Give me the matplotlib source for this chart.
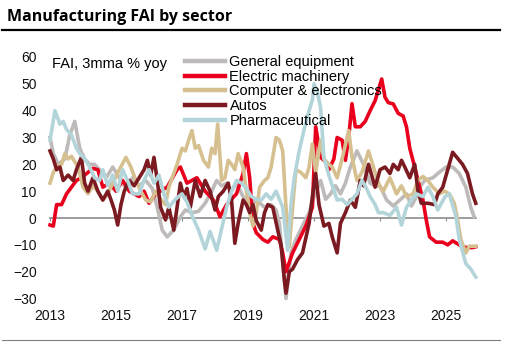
import matplotlib
matplotlib.use("Agg")
import matplotlib.pyplot as plt
from matplotlib.lines import Line2D

# ---- data (decimal years) ----
gen_t = [2013.0, 2013.1, 2013.25, 2013.45, 2013.6, 2013.75, 2013.9, 2014.05, 2014.2, 2014.35,
         2014.5, 2014.7, 2014.9, 2015.1, 2015.3, 2015.5, 2015.7, 2015.9, 2016.1, 2016.25,
         2016.4, 2016.55, 2016.75, 2016.95, 2017.1, 2017.3, 2017.5, 2017.7, 2017.9, 2018.05,
         2018.2, 2018.35, 2018.5, 2018.65, 2018.85, 2019.05, 2019.25, 2019.5, 2019.7, 2019.85,
         2019.95, 2020.08, 2020.15, 2020.3, 2020.45, 2020.65, 2020.85, 2021.0, 2021.2, 2021.35,
         2021.5, 2021.65, 2021.8, 2021.95, 2022.1, 2022.3, 2022.5, 2022.7, 2022.85, 2023.0,
         2023.2, 2023.4, 2023.6, 2023.8, 2023.95, 2024.05, 2024.2, 2024.35, 2024.6, 2024.75,
         2025.0, 2025.2, 2025.4, 2025.6, 2025.75, 2025.85]
gen_v = [30, 24, 20, 22, 31, 36, 26, 22, 20, 20,
         18, 15, 19, 15, 11, 15, 12, 14, 11, 4,
         -4.5, -7, -4.5, 0.5, 3, 2, 2.5, 5.5, 10, 14,
         12, 13, 10, 13, 8, 4, 6.7, 4, 5, 3,
         -2, -20, -30, -13, -8, -3, 2, 8, 14, 7,
         9, 12, 9, 13, 19, 25, 20, 13, 12, 12,
         6.7, 4.5, 6.7, 9, 4.5, 6.7, 11.5, 14, 15, 16.6,
         19, 19, 16.6, 11.5, 4, 0.5]

elec_t = [2013.0, 2013.1, 2013.2, 2013.35, 2013.5, 2013.65, 2013.8, 2013.95, 2014.15, 2014.3,
          2014.45, 2014.6, 2014.8, 2015.0, 2015.2, 2015.4, 2015.7, 2015.85, 2016.0, 2016.2,
          2016.55, 2016.85, 2016.95, 2017.15, 2017.45, 2017.7, 2017.95, 2018.15, 2018.35, 2018.65,
          2018.85, 2018.95, 2019.05, 2019.15, 2019.25, 2019.45, 2019.6, 2019.75, 2019.95, 2020.05,
          2020.15, 2020.35, 2020.55, 2020.75, 2020.95, 2021.05, 2021.2, 2021.35, 2021.45, 2021.6,
          2021.7, 2021.85, 2021.95, 2022.05, 2022.15, 2022.25, 2022.4, 2022.55, 2022.7, 2022.85,
          2023.05, 2023.15, 2023.25, 2023.4, 2023.55, 2023.7, 2023.8, 2023.9, 2024.05, 2024.15,
          2024.3, 2024.4, 2024.5, 2024.7, 2024.9, 2025.05, 2025.2, 2025.4, 2025.6, 2025.8, 2025.9]
elec_v = [-2.6, -3, 5, 5, 9, 11.5, 14, 15, 17, 18.5,
          18, 11.5, 13, 10, 14, 10, 8, 10, 5.5, 9,
          11.5, 18, 19, 13, 15, 10, 6.7, 0.5, 5, 9,
          16.6, 24, 15, -2, -5.5, -8, -9, -7, -8, -13,
          -20, -13, -8, -3, 4, 34, 22.6, 21, 18, 22,
          30, 29, 21.5, 30, 42.6, 34, 34, 36, 40, 43.7,
          51.8, 45, 43, 42.5, 39, 38, 34, 26, 19, 14,
          6.7, -0.7, -7, -9, -9, -10, -8.5, -10, -11, -11, -10.7]

comp_t = [2013.0, 2013.1, 2013.2, 2013.35, 2013.45, 2013.55, 2013.65, 2013.85, 2014.0, 2014.15,
          2014.3, 2014.45, 2014.6, 2014.75, 2014.9, 2015.1, 2015.3, 2015.45, 2015.6, 2015.75,
          2015.9, 2016.05, 2016.2, 2016.35, 2016.5, 2016.6, 2016.85, 2017.0, 2017.1, 2017.2,
          2017.3, 2017.4, 2017.5, 2017.65, 2017.8, 2017.9, 2018.0, 2018.08, 2018.2, 2018.3,
          2018.4, 2018.5, 2018.6, 2018.7, 2018.85, 2018.95, 2019.05, 2019.15, 2019.25, 2019.35,
          2019.5, 2019.6, 2019.7, 2019.85, 2019.95, 2020.05, 2020.15, 2020.25, 2020.35, 2020.45,
          2020.6, 2020.75, 2020.85, 2020.95, 2021.05, 2021.2, 2021.3, 2021.45, 2021.55, 2021.7,
          2021.85, 2022.0, 2022.05, 2022.15, 2022.3, 2022.45, 2022.65, 2022.8, 2022.9, 2023.0,
          2023.1, 2023.3, 2023.5, 2023.65, 2023.8, 2024.0, 2024.15, 2024.3, 2024.45, 2024.6,
          2024.8, 2024.95, 2025.1, 2025.25, 2025.35, 2025.45, 2025.6, 2025.7, 2025.9]
comp_v = [13, 17, 19, 20, 24, 22, 23, 19, 11.5, 9,
          12, 10, 6.7, 9, 13, 18, 22.6, 19, 14, 10,
          6.7, 6, 10, 7, 5, 11.5, 20, 26, 25, 29,
          32.6, 26, 27, 21.5, 19, 26, 24, 35, 14, 15,
          21.5, 20, 18, 24, 19, 10, 2, -3, 2, 11.5,
          14, 15, 19, 30, 29, 25, 4, -10.7, 4, 18,
          17, 15, 19, 27.6, 17, 29, 22, 20, 19, 15,
          22, 30, 32.6, 22.6, 14, 17, 25, 19, 15, 11.5,
          10, 15, 9, 12, 8, 9, 14, 15.5, 14, 11.5,
          9, 10, 9, 5.5, -0.7, -8, -13, -10.5, -10.5]

auto_t = [2013.0, 2013.1, 2013.2, 2013.3, 2013.4, 2013.55, 2013.7, 2013.8, 2013.95, 2014.05,
          2014.15, 2014.3, 2014.45, 2014.6, 2014.75, 2014.85, 2014.95, 2015.05, 2015.15, 2015.25,
          2015.4, 2015.55, 2015.7, 2015.85, 2015.95, 2016.05, 2016.15, 2016.25, 2016.35, 2016.5,
          2016.6, 2016.75, 2016.85, 2016.95, 2017.05, 2017.15, 2017.25, 2017.4, 2017.55, 2017.7,
          2017.85, 2018.0, 2018.1, 2018.25, 2018.4, 2018.5, 2018.6, 2018.7, 2018.85, 2018.95,
          2019.05, 2019.15, 2019.25, 2019.4, 2019.5, 2019.6, 2019.75, 2019.9, 2020.0, 2020.1,
          2020.15, 2020.25, 2020.35, 2020.5, 2020.65, 2020.85, 2020.95, 2021.05, 2021.15, 2021.3,
          2021.45, 2021.55, 2021.7, 2021.8, 2021.95, 2022.1, 2022.25, 2022.4, 2022.5, 2022.65,
          2022.85, 2023.0, 2023.15, 2023.3, 2023.4, 2023.55, 2023.65, 2023.75, 2023.9, 2024.05,
          2024.15, 2024.25, 2024.45, 2024.65, 2024.75, 2024.9, 2025.05, 2025.2, 2025.3, 2025.5,
          2025.65, 2025.8, 2025.9]
auto_v = [25, 22, 18, 19, 14, 16, 14, 18, 22.6, 13,
          10, 15, 10, 6.7, 10, 6.7, 3, -2.6, 5, 10,
          14, 12, 15, 18, 21.5, 16, 22.6, 14, 4, -0.7,
          4, -4.5, 4, 13, 8, 11, 4, 14, 8, 14,
          10, 3, 8, 10, 13, 6.7, -9.4, -2, 6.7, 5,
          2, 5, -1, -4.5, 2, 5, 4, -4.5, -10, -23,
          -28, -20, -19, -15.5, -13, -2, 8, 16.6, 5, -3,
          -2, -7, -13, -2, 2, 6.7, 4, 14, 12, 20,
          11.5, 18, 19, 16.6, 20, 18, 21.5, 19, 15, 20,
          10, 5.5, 5.5, 5, 9, 11.5, 18, 24.5, 23, 20,
          16.6, 9, 5.5]

pharma_t = [2013.0, 2013.15, 2013.3, 2013.4, 2013.5, 2013.65, 2013.8, 2013.9, 2014.05, 2014.2,
            2014.35, 2014.5, 2014.6, 2014.75, 2014.9, 2015.05, 2015.2, 2015.35, 2015.5, 2015.7,
            2015.85, 2016.0, 2016.15, 2016.3, 2016.45, 2016.6, 2016.8, 2017.0, 2017.15, 2017.3,
            2017.5, 2017.7, 2017.85, 2018.05, 2018.2, 2018.35, 2018.5, 2018.65, 2018.8, 2018.95,
            2019.1, 2019.25, 2019.4, 2019.55, 2019.7, 2019.85, 2020.05, 2020.2, 2020.3, 2020.4,
            2020.55, 2020.7, 2020.85, 2020.95, 2021.0, 2021.1, 2021.2, 2021.3, 2021.4, 2021.5,
            2021.7, 2021.85, 2022.0, 2022.15, 2022.3, 2022.45, 2022.55, 2022.7, 2022.85, 2022.95,
            2023.1, 2023.3, 2023.5, 2023.65, 2023.8, 2023.95, 2024.1, 2024.3, 2024.45, 2024.6,
            2024.75, 2024.97, 2025.1, 2025.3, 2025.4, 2025.6, 2025.75, 2025.9]
pharma_v = [29, 40, 35, 36, 33, 31, 26, 24, 22, 19,
            15, 14, 18, 12, 16, 10, 18, 14, 9, 9,
            14, 18, 13, 16, 9, 4, 7, 9, 6, 1,
            -4.5, -11.5, -5, -12, -4, 4, 10, 14, 13, 11,
            8, 7, 6.7, 9, 7, 10, 4, -12, 5, 15,
            25, 33, 40, 44, 50, 47, 41, 22.6, 18, 14,
            6.7, 7, 5, 7, 9, 14, 12, 8, 5, 2,
            2, 1, 4, -2.6, 4, 6.7, 9, 8, 11.5, 8,
            3, 8, 9, 0.5, -8, -17, -19, -22]

series = [
    ("General equipment", gen_t, gen_v, "#bebaba"),
    ("Electric machinery", elec_t, elec_v, "#e8001c"),
    ("Computer & electronics", comp_t, comp_v, "#d6c08f"),
    ("Autos", auto_t, auto_v, "#7b1a21"),
    ("Pharmaceutical", pharma_t, pharma_v, "#b3d5da"),
]
year_ticks = [2013, 2015, 2017, 2019, 2021, 2023, 2025]

W, H = 520, 361
fig = plt.figure(figsize=(W / 100, H / 100), dpi=100)
ax = fig.add_axes([45 / W, 1 - 305 / H, 440 / W, 255 / H])

for name, t, v, c in series:
    ax.plot(t, v, color=c, lw=2.6, label=name, solid_joinstyle="round")

ax.set_xlim(2012.848, 2026.18)
ax.set_ylim(-32.4, 62.6)
ax.set_yticks(range(-30, 61, 10))
ax.set_xticks(year_ticks)
ax.set_xticklabels([str(y) for y in year_ticks])

for s in ["top", "right", "left"]:
    ax.spines[s].set_visible(False)
ax.spines["bottom"].set_position(("data", 0))
ax.spines["bottom"].set_bounds(2013, 2025.9)
ax.spines["bottom"].set_color("#8c8c8c")
ax.spines["bottom"].set_linewidth(1.2)
ax.spines["bottom"].set_zorder(0.5)

ax.tick_params(axis="y", length=0, pad=6, labelsize=10, labelcolor="#111111")
ax.tick_params(axis="x", direction="out", length=2.5, color="#8c8c8c",
               pad=63, labelsize=10, labelcolor="#111111")
for lab in ax.get_xticklabels() + ax.get_yticklabels():
    lab.set_family("Liberation Sans")

ax.text(2013.06, 57.5, "FAI, 3mma % yoy", fontsize=10.5, family="Liberation Sans", va="center")

leg = ax.legend(loc="upper left", bbox_to_anchor=(185 / W, 1 - 55 / H),
                bbox_transform=fig.transFigure, frameon=False,
                handlelength=2.75, handletextpad=0.3, labelspacing=0.05,
                borderpad=0, borderaxespad=0, prop={"family": "Liberation Sans", "size": 10.5})
for ln in leg.get_lines():
    ln.set_linewidth(3.2)

fig.text(7 / W, 1 - 21 / H, "Manufacturing FAI by sector", fontsize=11.5,
         fontweight="bold", family="Open Sans", va="baseline")
fig.add_artist(Line2D([2 / W, 500 / W], [1 - 30 / H, 1 - 30 / H], color="black", lw=1.6))
fig.add_artist(Line2D([2 / W, 500 / W], [1 - 340 / H, 1 - 340 / H], color="#808080", lw=0.8))

fig.savefig("out.png", dpi=100)
